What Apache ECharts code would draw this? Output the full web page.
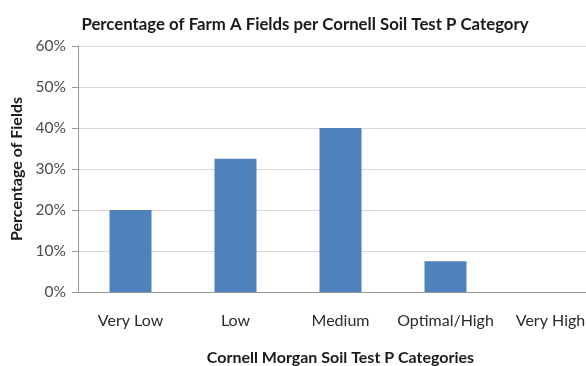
<!DOCTYPE html>
<html>
<head>
<meta charset="utf-8">
<script src="https://cdn.jsdelivr.net/npm/echarts@6/dist/echarts.min.js"></script>
<style>
  html, body { margin: 0; padding: 0; background: #fff; overflow: hidden; }
  #chart { width: 586px; height: 366px; }
</style>
</head>
<body>
<div id="chart"></div>
<script>
// Share of Farm A fields falling in each Cornell Morgan soil test P class
const categories = ['Very Low', 'Low', 'Medium', 'Optimal/High', 'Very High'];
const fieldShare = [0.20, 0.325, 0.40, 0.075, 0];
const yTicks = [0, 0.1, 0.2, 0.3, 0.4, 0.5, 0.6];

const FONT = 'Lato, "Open Sans", sans-serif';

const chart = echarts.init(document.getElementById('chart'), null, { renderer: 'canvas' });
chart.setOption({
  animation: false,
  backgroundColor: '#ffffff',
  title: {
    text: 'Percentage of Farm A Fields per Cornell Soil Test P Category',
    left: 300,
    top: 11,
    textAlign: 'center',
    textStyle: { fontFamily: FONT, fontSize: 16.8, fontWeight: 'bold', color: '#1a1a1a' }
  },
  // the plot runs past the right edge, so the last category is partly cut off
  grid: { left: 78, top: 46, width: 525, height: 246, containLabel: false, outerBoundsMode: 'none' },
  xAxis: {
    type: 'category',
    data: categories,
    name: 'Cornell Morgan Soil Test P Categories',
    nameLocation: 'middle',
    nameGap: 58,
    nameTextStyle: { fontFamily: FONT, fontSize: 16, fontWeight: 'bold', color: '#1a1a1a' },
    axisLine: { lineStyle: { color: '#9a9a9a', width: 1 } },
    axisTick: { show: false },
    axisLabel: { interval: 0, fontFamily: FONT, fontSize: 16, color: '#2b2b2b', margin: 21, hideOverlap: false }
  },
  yAxis: {
    type: 'value',
    min: yTicks[0],
    max: yTicks[yTicks.length - 1],
    interval: 0.1,
    name: 'Percentage of Fields',
    nameLocation: 'middle',
    nameGap: 51,
    nameRotate: 90,
    nameTextStyle: { fontFamily: FONT, fontSize: 16, fontWeight: 'bold', color: '#1a1a1a' },
    axisLine: { show: true, lineStyle: { color: '#9a9a9a', width: 1 } },
    axisTick: { show: true, length: 6, inside: false, lineStyle: { color: '#9a9a9a' } },
    axisLabel: {
      fontFamily: FONT, fontSize: 15.5, color: '#4d4d4d', margin: 12,
      formatter: v => Math.round(v * 100) + '%'
    },
    splitLine: { show: true, lineStyle: { color: '#d9d9d9', width: 1 } }
  },
  series: [{
    type: 'bar',
    data: fieldShare,
    barWidth: '40%',
    itemStyle: { color: '#4f81bd' }
  }]
});
</script>
</body>
</html>
